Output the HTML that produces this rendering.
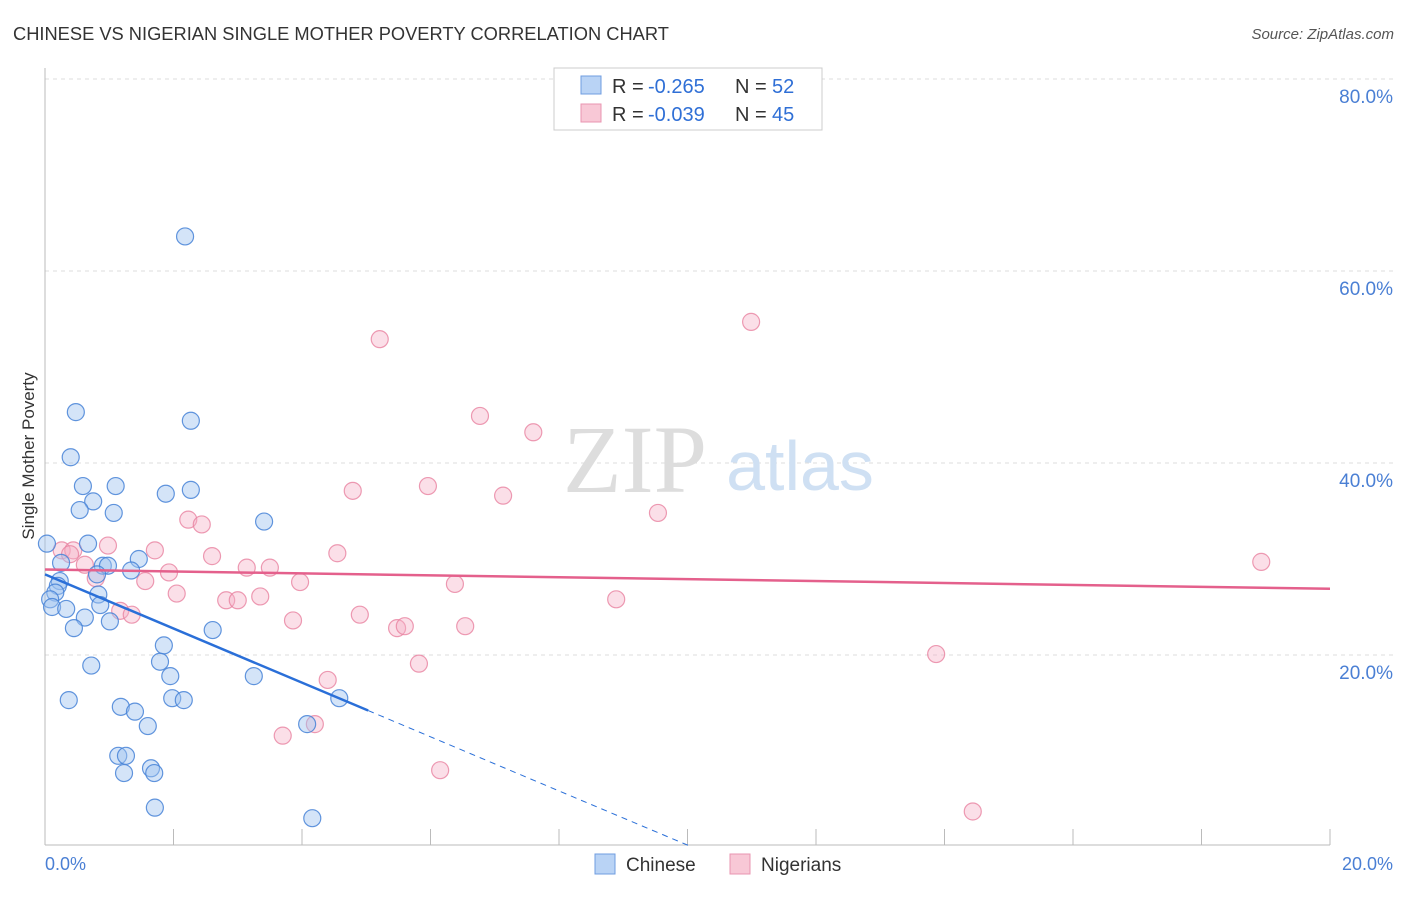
<!DOCTYPE html>
<html><head><meta charset="utf-8"><style>
body{margin:0;background:#fff;font-family:"Liberation Sans",sans-serif;}
svg text{font-family:"Liberation Sans",sans-serif;}
</style></head><body>
<svg width="1406" height="892" viewBox="0 0 1406 892">
<text x="13" y="40" font-size="18.3" fill="#333">CHINESE VS NIGERIAN SINGLE MOTHER POVERTY CORRELATION CHART</text>
<text x="1394" y="39" font-size="15" fill="#555" font-style="italic" text-anchor="end">Source: ZipAtlas.com</text>
<g id="grid"></g>
<text x="635" y="492" font-size="96" fill="#ddd" text-anchor="middle" style="font-family:'Liberation Serif',serif">ZIP</text>
<text x="800" y="490" font-size="70" fill="#cfe0f3" text-anchor="middle">atlas</text>
<line x1="45" y1="68" x2="45" y2="845" stroke="#bbb"/>
<line x1="45" y1="845" x2="1330" y2="845" stroke="#bbb"/>
<g id="ticks"></g>
<g id="pts"></g>
<g id="lines"></g>
<text transform="translate(34,456) rotate(-90)" font-size="17" fill="#333" text-anchor="middle">Single Mother Poverty</text>
<text x="45" y="870" font-size="18" fill="#4a7fd4">0.0%</text>
<text x="1393" y="870" font-size="18" fill="#4a7fd4" text-anchor="end">20.0%</text>
<g>
<rect x="554" y="68" width="268" height="62" fill="#fff" stroke="#ccc"/>
<rect x="581" y="76" width="20" height="18" fill="#b9d3f5" stroke="#6f9de0"/>
<rect x="581" y="104" width="20" height="18" fill="#f8c8d6" stroke="#e995b0"/>
<text x="612" y="93" font-size="20" fill="#333">R =</text>
<text x="648" y="93" font-size="20" fill="#2f6fd6">-0.265</text>
<text x="735" y="93" font-size="20" fill="#333">N =</text>
<text x="772" y="93" font-size="20" fill="#2f6fd6">52</text>
<text x="612" y="121" font-size="20" fill="#333">R =</text>
<text x="648" y="121" font-size="20" fill="#2f6fd6">-0.039</text>
<text x="735" y="121" font-size="20" fill="#333">N =</text>
<text x="772" y="121" font-size="20" fill="#2f6fd6">45</text>
</g>
<g>
<rect x="595" y="854" width="20" height="20" fill="#b9d3f5" stroke="#6f9de0"/>
<text x="626" y="871" font-size="19" fill="#333">Chinese</text>
<rect x="730" y="854" width="20" height="20" fill="#f8c8d6" stroke="#e995b0"/>
<text x="761" y="871" font-size="19" fill="#333">Nigerians</text>
</g>
</svg>
<script>
const yTicks=[20,40,60,80];
const xTickCount=10;
const chineseX=[2.18,2.27,0.48,0.40,0.59,1.10,0.75,0.54,1.07,1.88,2.27,3.41,0.67,0.03,1.46,0.90,0.98,1.34,0.81,0.25,0.23,0.20,0.16,0.08,0.83,0.86,0.11,0.33,0.62,1.01,0.45,2.61,1.85,1.79,0.72,1.95,3.25,0.37,1.98,2.16,4.58,1.18,1.40,1.60,4.08,1.14,1.26,1.65,1.23,1.70,1.71,4.16];
const chineseY=[63.6,44.4,45.3,40.6,37.6,37.6,36.0,35.1,34.8,36.8,37.2,33.9,31.6,31.6,30.0,29.3,29.3,28.8,28.4,29.6,27.7,27.2,26.5,25.8,26.3,25.2,25.0,24.8,23.9,23.5,22.8,22.6,21.0,19.3,18.9,17.8,17.8,15.3,15.5,15.3,15.5,14.6,14.1,12.6,12.8,9.5,9.5,8.2,7.7,7.7,4.1,3.0];
const nigerianX=[10.99,5.21,6.77,7.60,4.79,5.96,7.13,9.54,2.23,2.44,0.26,0.44,0.98,1.71,4.55,2.60,3.14,3.50,18.93,0.62,1.93,1.56,0.79,3.97,6.38,2.05,2.82,3.00,3.35,8.89,1.17,1.35,3.86,4.90,5.48,5.60,6.54,5.82,13.87,4.40,3.70,4.20,6.15,14.44,0.39];
const nigerianY=[54.7,52.9,44.9,43.2,37.1,37.6,36.6,34.8,34.1,33.6,30.9,30.9,31.4,30.9,30.6,30.3,29.1,29.1,29.7,29.4,28.6,27.7,28.0,27.6,27.4,26.4,25.7,25.7,26.1,25.8,24.6,24.2,23.6,24.2,22.8,23.0,23.0,19.1,20.1,17.4,11.6,12.8,8.0,3.7,30.5];
const chineseTrend=[28.4,-2.82];
const nigerianTrend=[28.9,-0.1];
const chineseSolidEnd=5.03;
const xs=v=>45+v/20*1285, ys=v=>847-v*9.6;
const NS='http://www.w3.org/2000/svg';
function mk(t,a,p){const e=document.createElementNS(NS,t);for(const k in a)e.setAttribute(k,a[k]);p.appendChild(e);return e;}
const grid=document.getElementById('grid');
yTicks.forEach(v=>{
 const l=mk('line',{x1:45,x2:1395,y1:ys(v),y2:ys(v),stroke:'#ddd','stroke-dasharray':'4,4'},grid);
 
 
 const t=mk('text',{x:1393,y:ys(v)+24,'font-size':19,fill:'#4a7fd4','text-anchor':'end'},grid);
 t.textContent=v.toFixed(1)+'%';
 
 
});
const tk=document.getElementById('ticks');
for(let i=0;i<=xTickCount;i++){
 const x=xs(i*2);
 const l=mk('line',{x1:x,x2:x,y1:829,y2:845,stroke:'#bbb'},tk);
 
 
}
const pts=document.getElementById('pts');
function plot(X,Y,fill,stroke,name){X.forEach((x,i)=>{
 const c=mk('circle',{cx:xs(x),cy:ys(Y[i]),r:8.5,fill:fill,stroke:stroke,'stroke-width':1.2},pts);
 
 
});}
plot(nigerianX,nigerianY,'rgba(246,176,198,0.4)','rgba(232,130,160,0.8)','nigerian-point');
plot(chineseX,chineseY,'rgba(160,196,240,0.45)','rgba(70,130,215,0.85)','chinese-point');
const ln=document.getElementById('lines');
const cy=x=>chineseTrend[0]+chineseTrend[1]*x;
const endX=-chineseTrend[0]/chineseTrend[1];
let l=mk('line',{x1:xs(0),y1:ys(cy(0)),x2:xs(chineseSolidEnd),y2:ys(cy(chineseSolidEnd)),stroke:'#2a6fd8','stroke-width':2.5},ln);


l=mk('line',{x1:xs(chineseSolidEnd),y1:ys(cy(chineseSolidEnd)),x2:xs(endX),y2:ys(0),stroke:'#2a6fd8','stroke-width':1,'stroke-dasharray':'6,5'},ln);


const ny=x=>nigerianTrend[0]+nigerianTrend[1]*x;
l=mk('line',{x1:xs(0),y1:ys(ny(0)),x2:xs(20),y2:ys(ny(20)),stroke:'#e4608c','stroke-width':2.5},ln);


</script>
</body></html>
